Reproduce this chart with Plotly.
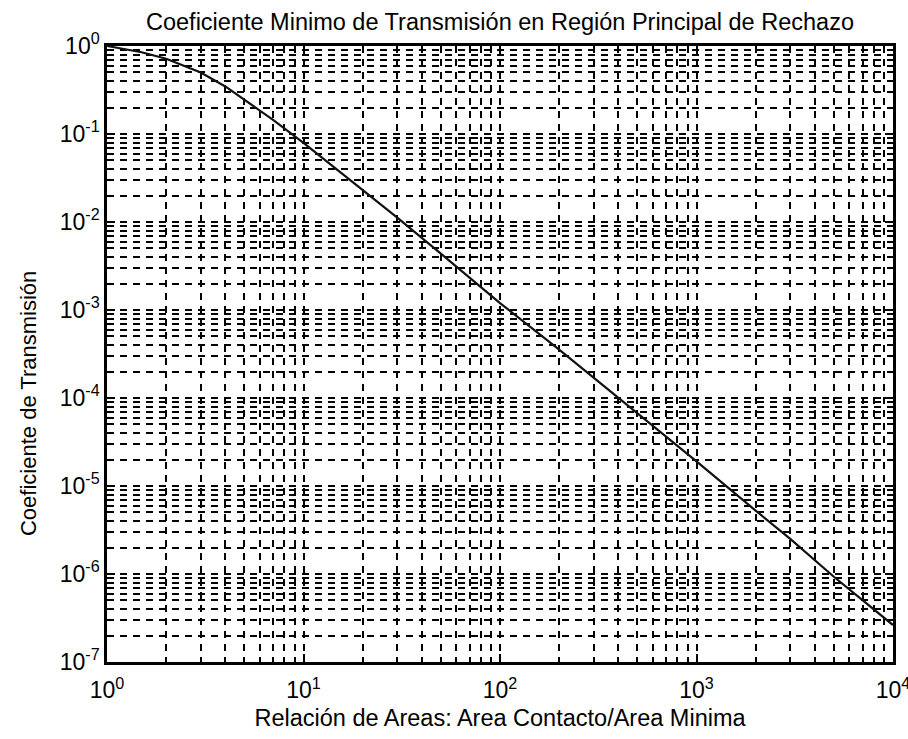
import plotly.graph_objects as go

# Area ratio (contact area / minimum area)
area_ratio = [1, 1.5, 2, 3, 4, 5, 7, 10, 20, 30, 50, 100, 200, 300, 500,
              1000, 2000, 3000, 5000, 10000]
# Minimum transmission coefficient in the main rejection band
trans_coef = [1.0, 0.85, 0.716, 0.50, 0.347, 0.245, 0.145, 0.0794, 0.0234,
              0.0112, 4.37e-3, 1.2e-3, 3.55e-4, 1.70e-4, 6.76e-5, 1.9e-5,
              5.25e-6, 2.51e-6, 9.3e-7, 2.63e-7]

x_decades = [0, 1, 2, 3, 4]
y_decades = [-7, -6, -5, -4, -3, -2, -1, 0]

x_major = [10 ** d for d in x_decades]
x_major_text = [f"10<sup>{d}</sup>" for d in x_decades]
y_major = [10.0 ** d for d in y_decades]
y_major_text = [f"10<sup>{d}</sup>" for d in y_decades]

mantissas = [2, 3, 4, 5, 6, 7, 8, 9]
x_minor = [m * 10.0 ** d for d in x_decades[:-1] for m in mantissas]
y_minor = [m * 10.0 ** d for d in y_decades[:-1] for m in mantissas]

FONT = "Liberation Sans, Arial, sans-serif"
GRID_DASH = "6.5px,6.5px"
EPS = 1e-5  # keeps the end decades inside the axis range

fig = go.Figure()
fig.add_trace(go.Scatter(
    x=area_ratio, y=trans_coef, mode="lines",
    line=dict(color="#111111", width=2.2),
    showlegend=False,
))

axis_common = dict(
    type="log", automargin=False,
    showline=True, linecolor="black", linewidth=2.5, mirror="allticks",
    ticks="inside", ticklen=8, tickwidth=2, tickcolor="black",
    showgrid=True, gridcolor="black", gridwidth=2, griddash=GRID_DASH,
    zeroline=False, ticklabeloverflow="allow",
    tickfont=dict(family=FONT, size=23, color="black"),
)

minor_common = dict(
    ticks="inside", ticklen=4, tickwidth=2, tickcolor="black",
    showgrid=True, gridcolor="black", gridwidth=2, griddash=GRID_DASH,
)

fig.update_xaxes(
    **axis_common,
    range=[-EPS, 4 + EPS],
    tickmode="array", tickvals=x_major, ticktext=x_major_text,
    ticklabelstandoff=6,
    minor=dict(tickmode="array", tickvals=x_minor, **minor_common),
    title=dict(text="Relación de Areas: Area Contacto/Area Minima",
               font=dict(family=FONT, size=23.5, color="black"), standoff=8),
)
fig.update_yaxes(
    **axis_common,
    range=[-7 - EPS, EPS],
    tickmode="array", tickvals=y_major, ticktext=y_major_text,
    minor=dict(tickmode="array", tickvals=y_minor, **minor_common),
)

fig.add_annotation(
    text="Coeficiente de Transmisión",
    xref="paper", yref="paper", x=-0.118, y=0.42,
    textangle=-90, showarrow=False,
    font=dict(family=FONT, size=22, color="black"),
)

fig.update_layout(
    width=908, height=739,
    margin=dict(l=107, r=15, t=46, b=77, autoexpand=False),
    paper_bgcolor="white", plot_bgcolor="white",
    title=dict(text="Coeficiente Minimo de Transmisión en Región Principal de Rechazo",
               x=0.5, xref="paper", xanchor="center",
               y=1 - 22 / 739, yanchor="middle",
               font=dict(family=FONT, size=23.5, color="black")),
)

fig.write_html("out.html")
